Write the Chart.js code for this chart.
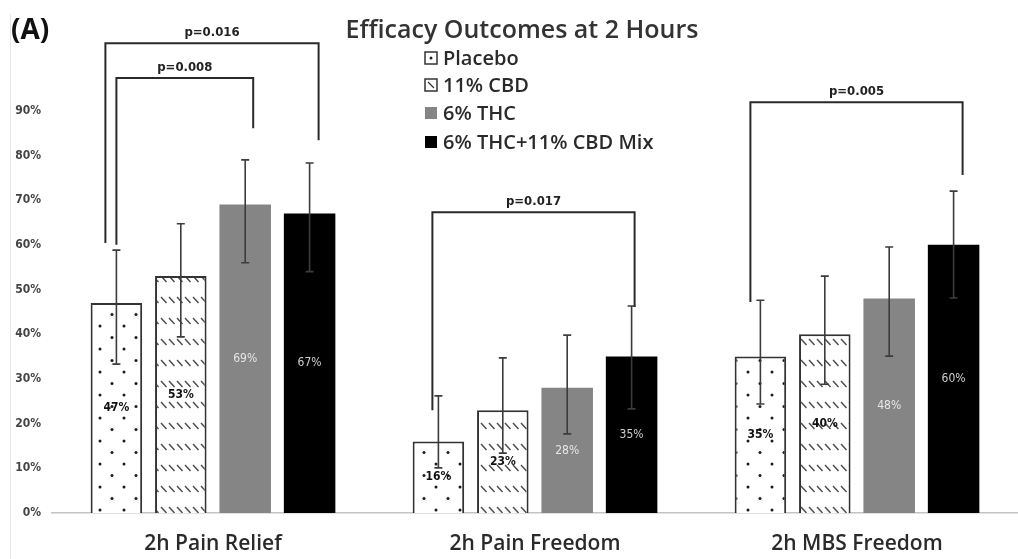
<!DOCTYPE html>
<html>
<head>
<meta charset="utf-8">
<script src="https://cdn.jsdelivr.net/npm/chart.js@4.4.1/dist/chart.umd.min.js"></script>
<style>
    body { margin: 0; background: #fff; }
    #wrap { width: 1018px; height: 559px; position: relative; }
</style>
</head>
<body>
<div id="wrap"><canvas id="chart"></canvas></div>
<script>
// ── DATA ──
const CATEGORIES = ['2h Pain Relief', '2h Pain Freedom', '2h MBS Freedom'];
const SERIES = ['Placebo', '11% CBD', '6% THC', '6% THC+11% CBD Mix'];
const PLACEBO = [47, 16, 35];
const CBD = [53, 23, 40];
const THC = [69, 28, 48];
const MIX = [67, 35, 60];
// 95% CI bounds
const PLACEBO_LO = [33.3, 10.1, 24.4], PLACEBO_HI = [58.8, 26.2, 47.6];
const CBD_LO = [39.4, 13.4, 28.8], CBD_HI = [64.7, 34.7, 53.0];
const THC_LO = [56.0, 17.7, 35.1], THC_HI = [79.0, 39.8, 59.5];
const MIX_LO = [54.0, 23.3, 48.1], MIX_HI = [78.3, 46.3, 72.0];
const Y_TICKS = [0, 10, 20, 30, 40, 50, 60, 70, 80, 90];
// significance brackets: group, from series -> to series, bracket level, leg ends (all in %)
const BRACKETS = [
    {p: 'p=0.016', group: 0, from: 0, to: 3, top: 105.1, leftEnd: 60.4, rightEnd: 83.4},
    {p: 'p=0.008', group: 0, from: 0, to: 2, top: 97.3, leftEnd: 60.0, rightEnd: 86.1},
    {p: 'p=0.017', group: 1, from: 0, to: 3, top: 67.3, leftEnd: 23.0, rightEnd: 46.1},
    {p: 'p=0.005', group: 2, from: 0, to: 3, top: 91.9, leftEnd: 47.2, rightEnd: 75.6}
];
// small horizontal nudges of the bracket legs (px)
const BRACKET_DX = [[-11, 9], [0, 8], [-6, 3], [-10, 9]];

const LOWS = [PLACEBO_LO, CBD_LO, THC_LO, MIX_LO];
const HIGHS = [PLACEBO_HI, CBD_HI, THC_HI, MIX_HI];

// ── PATTERNS ──
function dotPattern() {
    const c = document.createElement('canvas');
    c.width = 24; c.height = 23;
    const g = c.getContext('2d');
    g.fillStyle = '#fff'; g.fillRect(0, 0, 24, 23);
    g.fillStyle = '#1a1a1a';
    [[4, 4], [16, 15.5]].forEach(([x, y]) => { g.beginPath(); g.arc(x, y, 1.5, 0, Math.PI * 2); g.fill(); });
    return g.createPattern(c, 'repeat');
}
function dashPattern() {
    const c = document.createElement('canvas');
    c.width = 8; c.height = 21;
    const g = c.getContext('2d');
    g.fillStyle = '#fff'; g.fillRect(0, 0, 8, 21);
    g.strokeStyle = '#4a4a4a'; g.lineWidth = 1.4;
    g.beginPath(); g.moveTo(1, 3); g.lineTo(6.5, 9); g.stroke();
    return g.createPattern(c, 'repeat');
}

const FILLS = [dotPattern(), dashPattern(), '#858585', '#000000'];
const BORDERS = ['#333', '#333', '#858585', '#000'];
const LABEL_COLORS = ['#111', '#111', '#e6e6e6', '#cfcfcf'];

// ── PLUGIN: error bars, value labels, brackets, title, legend ──
const extras = {
    id: 'extras',
    beforeDraw(chart) {
        const ctx = chart.ctx;
        ctx.save();
        ctx.strokeStyle = '#e6e6e6'; ctx.lineWidth = 1;
        ctx.beginPath(); ctx.moveTo(10.5, 14); ctx.lineTo(10.5, 559); ctx.stroke();
        ctx.restore();
    },
    afterDatasetsDraw(chart) {
        const ctx = chart.ctx, y = chart.scales.y;
        ctx.save();

        // error bars
        ctx.strokeStyle = '#3c3c3c'; ctx.lineWidth = 1.6;
        chart.data.datasets.forEach((ds, di) => {
            chart.getDatasetMeta(di).data.forEach((bar, i) => {
                const lo = y.getPixelForValue(LOWS[di][i]), hi = y.getPixelForValue(HIGHS[di][i]);
                ctx.beginPath();
                ctx.moveTo(bar.x, lo); ctx.lineTo(bar.x, hi);
                ctx.moveTo(bar.x - 4, lo); ctx.lineTo(bar.x + 4, lo);
                ctx.moveTo(bar.x - 4, hi); ctx.lineTo(bar.x + 4, hi);
                ctx.stroke();
            });
        });

        // value labels in the middle of each bar
        ctx.textAlign = 'center'; ctx.textBaseline = 'middle';
        chart.data.datasets.forEach((ds, di) => {
            ctx.font = (di < 2 ? 'bold ' : '') + '12px "DejaVu Sans Condensed", "DejaVu Sans"';
            ctx.fillStyle = LABEL_COLORS[di];
            chart.getDatasetMeta(di).data.forEach((bar, i) => {
                ctx.fillText(ds.data[i] + '%', bar.x, (bar.y + bar.base) / 2);
            });
        });

        // significance brackets
        ctx.strokeStyle = '#2a2a2a'; ctx.lineWidth = 2;
        ctx.fillStyle = '#222';
        ctx.font = 'bold 13px "DejaVu Sans Condensed", "DejaVu Sans"';
        ctx.textBaseline = 'alphabetic';
        BRACKETS.forEach((b, k) => {
            const x1 = chart.getDatasetMeta(b.from).data[b.group].x + BRACKET_DX[k][0];
            const x2 = chart.getDatasetMeta(b.to).data[b.group].x + BRACKET_DX[k][1];
            const yt = y.getPixelForValue(b.top);
            ctx.beginPath();
            ctx.moveTo(x1, y.getPixelForValue(b.leftEnd));
            ctx.lineTo(x1, yt); ctx.lineTo(x2, yt);
            ctx.lineTo(x2, y.getPixelForValue(b.rightEnd));
            ctx.stroke();
            ctx.fillText(b.p, (x1 + x2) / 2, yt - 7);
        });

        // panel letter and title
        ctx.fillStyle = '#111';
        ctx.textAlign = 'left'; ctx.textBaseline = 'middle';
        ctx.font = 'bold 28px "Open Sans", sans-serif';
        ctx.fillText('(A)', 11, 31);
        ctx.fillStyle = '#333';
        ctx.textAlign = 'center';
        ctx.font = '600 25px "Open Sans", sans-serif';
        ctx.fillText('Efficacy Outcomes at 2 Hours', 522, 31);

        // legend (vertical list)
        const rows = [58, 85, 113, 142];
        ctx.textAlign = 'left';
        ctx.font = '600 20px "Open Sans", sans-serif';
        SERIES.forEach((name, i) => {
            const bx = 425, by = rows[i] - 6;
            if (i < 2) {
                ctx.fillStyle = '#fff'; ctx.fillRect(bx, by, 12, 12);
                ctx.strokeStyle = '#333'; ctx.lineWidth = 1.5;
                ctx.strokeRect(bx, by, 12, 12);
                ctx.beginPath();
                if (i === 0) { ctx.fillStyle = '#222'; ctx.arc(bx + 6, by + 6, 1.5, 0, Math.PI * 2); ctx.fill(); }
                else { ctx.lineWidth = 1.2; ctx.moveTo(bx + 3, by + 3); ctx.lineTo(bx + 9, by + 9); ctx.stroke(); }
            } else {
                ctx.fillStyle = BORDERS[i]; ctx.fillRect(bx, by, 12, 12);
            }
            ctx.fillStyle = '#2a2a2a';
            ctx.fillText(name, 443, rows[i] + 1);
        });
        ctx.restore();
    }
};

new Chart(document.getElementById('chart'), {
    type: 'bar',
    data: {
        labels: CATEGORIES,
        datasets: [PLACEBO, CBD, THC, MIX].map((vals, i) => ({
            label: SERIES[i], data: vals,
            backgroundColor: FILLS[i], borderColor: BORDERS[i],
            borderWidth: i < 2 ? 2 : 0,
            categoryPercentage: 0.8, barPercentage: 0.8
        }))
    },
    options: {
        responsive: true, maintainAspectRatio: false, animation: false,
        layout: {padding: {top: 66, left: 0, right: 0, bottom: 0}},
        plugins: {legend: {display: false}, tooltip: {enabled: false}},
        scales: {
            x: {
                grid: {display: false, drawTicks: false},
                border: {display: true, color: '#c4c4c4', width: 1.5},
                ticks: {color: '#2a2a2a', padding: 18, font: {family: '"Open Sans"', size: 21, weight: '600'}},
                afterFit: s => { s.height = 46; }
            },
            y: {
                min: 0, max: 100,
                afterBuildTicks: s => { s.ticks = Y_TICKS.map(v => ({value: v})); },
                grid: {display: false, drawTicks: false},
                border: {display: false},
                ticks: {
                    color: '#444', padding: 11,
                    font: {family: '"DejaVu Sans Condensed", "DejaVu Sans"', size: 12, weight: 'bold'},
                    callback: v => v + '%'
                },
                afterFit: s => { s.width = 52; }
            }
        }
    },
    plugins: [extras]
});
</script>
</body>
</html>
